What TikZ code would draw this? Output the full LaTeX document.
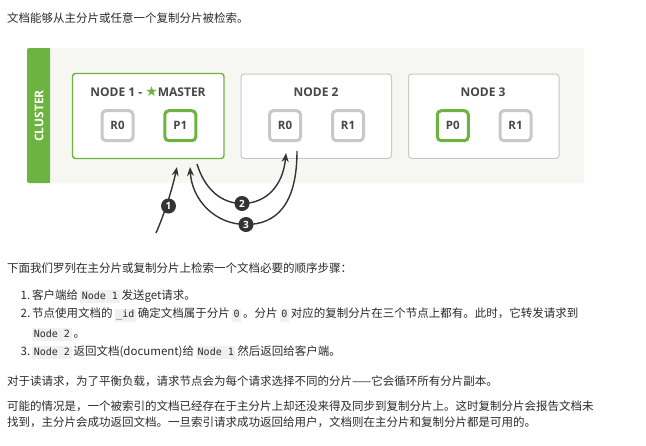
\documentclass[tikz,border=0pt]{standalone}
\usepackage{fontspec}
\setmainfont{Noto Sans CJK SC}
\setmonofont{DejaVu Sans Mono}
\newfontfamily\diagfont{Open Sans}
\newfontfamily\symfont{DejaVu Sans}
\usetikzlibrary{arrows.meta}
\definecolor{egreen}{HTML}{6DB33F}
\definecolor{clbg}{HTML}{F6F7F3}
\definecolor{bxgray}{HTML}{C8C8C8}
\definecolor{dtxt}{HTML}{474747}
\definecolor{txt}{HTML}{2B2B2B}
\definecolor{codebg}{HTML}{F0F0F0}
\definecolor{arr}{HTML}{333333}
\newcommand\cde[1]{\kern2pt{\setlength{\fboxsep}{1.6pt}\colorbox{codebg}{\ttfamily\fontsize{10}{12}\selectfont\vphantom{Ng}#1}}\kern2pt}
\tikzset{
  body/.style={anchor=base west, inner sep=0pt, text=txt, font=\fontsize{11.5}{14}\selectfont},
  nodebox/.style={draw=bxgray, line width=1pt, rounded corners=3pt, fill=white},
  masterbox/.style={draw=egreen, line width=1.4pt, rounded corners=3pt, fill=white},
  replica/.style={draw=bxgray, line width=3pt, rounded corners=4pt, fill=white, minimum width=31pt, minimum height=30pt, inner sep=0pt, text=dtxt, font=\diagfont\bfseries\fontsize{11.5}{13}\selectfont},
  primary/.style={replica, draw=egreen},
  title/.style={anchor=base, inner sep=0pt, text=dtxt, font=\diagfont\bfseries\fontsize{12}{14}\selectfont},
  conn/.style={draw=arr, line width=1.4pt, -{Stealth[length=9pt,width=7pt]}},
  badge/.style={circle, fill=arr, text=white, inner sep=0pt, minimum size=15pt, font=\diagfont\bfseries\fontsize{10}{11}\selectfont}
}
\begin{document}
\begin{tikzpicture}[x=1pt,y=-1pt]
\useasboundingbox (0,0) rectangle (646,445);
\fill[white] (0,0) rectangle (646,445);

\node[body] (t0) at (7,22) {文档能够从主分片或任意一个复制分片被检索。};

% cluster
\fill[clbg, rounded corners=2pt] (27,48) rectangle (584,183);
\fill[egreen, rounded corners=2pt] (27,48) rectangle (50,183);
\fill[egreen] (40,48) rectangle (50,183);
\node[rotate=90, text=white, inner sep=0pt, font=\diagfont\bfseries\fontsize{12}{14}\selectfont] (cl) at (39,116) {CLUSTER};

% nodes
\draw[masterbox] (72.5,73.5) rectangle (224,158.5);
\node[title] (n1t) at (148,96.3) {NODE 1 - {\symfont\fontsize{14}{14}\selectfont\color{egreen}★}MASTER};
\draw[nodebox] (241,74) rectangle (391.5,158.3);
\node[title] (n2t) at (316,96.3) {NODE 2};
\draw[nodebox] (408.5,74) rectangle (559,158.3);
\node[title] (n3t) at (483,96.3) {NODE 3};

\node[replica] (n1r0) at (117.5,125.7) {R0};
\node[primary] (n1p1) at (180.3,125.7) {P1};
\node[replica] (n2r0) at (285,125.7) {R0};
\node[replica] (n2r1) at (348,125.7) {R1};
\node[primary] (n3p0) at (452.8,125.7) {P0};
\node[replica] (n3r1) at (515.5,125.7) {R1};

% arrows
\coordinate (a1s) at (156,233);
\coordinate (a1e) at (177,167);
\coordinate (a2s) at (197,164);
\coordinate (a2m) at (242,203.5);
\coordinate (a2e) at (286,153);
\coordinate (a3s) at (297,151);
\coordinate (a3m) at (246,224.5);
\coordinate (a3e) at (190,167);

\draw[conn] (a1s) .. controls (164,215) and (172,190) .. (a1e);
\draw[conn] (a2s) .. controls (205,190) and (222,203.5) .. (a2m) .. controls (266,203.5) and (283,186) .. (a2e);
\draw[conn] (a3s) .. controls (297,205) and (276,224.5) .. (a3m) .. controls (215,224.5) and (192,200) .. (a3e);

\node[badge] (b1) at (168.5,206) {1};
\node[badge] (b2) at (242,203.5) {2};
\node[badge] (b3) at (246,224.5) {3};

% text below
\node[body] (t1) at (7,272.7) {下面我们罗列在主分片或复制分片上检索一个文档必要的顺序步骤：};
\node[body] (i1n) at (20.5,299.4) {1.};
\node[body] (i1) at (32,299.4) {客户端给\cde{Node 1}发送get请求。};
\node[body] (i2n) at (20.5,317.8) {2.};
\node[body] (i2) at (32,317.8) {节点使用文档的\cde{\_id}确定文档属于分片\cde{0}。分片\cde{0}对应的复制分片在三个节点上都有。此时，它转发请求到};
\node[body] (i2b) at (32,337.2) {\kern-2pt\cde{Node 2}。};
\node[body] (i3n) at (20.5,355.5) {3.};
\node[body] (i3) at (32,355.5) {\kern-2pt\cde{Node 2}返回文档(document)给\cde{Node 1}然后返回给客户端。};

\node[body] (p1) at (7,385) {对于读请求，为了平衡负载，请求节点会为每个请求选择不同的分片——它会循环所有分片副本。};
\node[body] (p2) at (7,410) {可能的情况是，一个被索引的文档已经存在于主分片上却还没来得及同步到复制分片上。这时复制分片会报告文档未};
\node[body] (p3) at (7,426.4) {找到，主分片会成功返回文档。一旦索引请求成功返回给用户，文档则在主分片和复制分片都是可用的。};
\end{tikzpicture}
\end{document}
